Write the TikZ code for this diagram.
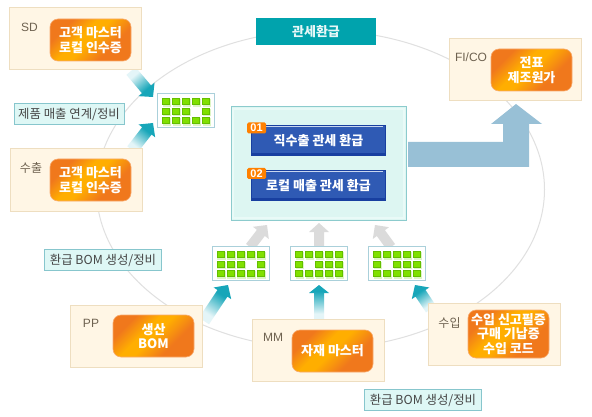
\documentclass[tikz,border=0pt]{standalone}
\usepackage{fontspec}
\setmainfont{Noto Sans CJK KR}
\newfontfamily\latinf{Liberation Sans}
\usetikzlibrary{calc}
\definecolor{oDark}{HTML}{F0781C}
\definecolor{oAmb}{HTML}{FFAE00}
\definecolor{oEdge}{HTML}{F8AA6E}
\definecolor{tealA}{HTML}{17A6B9}
\definecolor{tealL}{HTML}{E4F5F8}
\definecolor{grayA}{HTML}{DBDBDB}
\definecolor{bigB}{HTML}{98C0D6}
\definecolor{ringC}{HTML}{E0E0E0}
\definecolor{modF}{HTML}{FFF6E5}
\definecolor{modD}{HTML}{EEDEC0}
\definecolor{modT}{HTML}{6E6250}
\definecolor{noteD}{HTML}{87C6CD}
\definecolor{noteF}{HTML}{DEF7F5}
\definecolor{noteT}{HTML}{464646}
\definecolor{gridD}{HTML}{AAD0DA}
\definecolor{blueF}{HTML}{2F5AB4}
\definecolor{blueD}{HTML}{183FA0}
\definecolor{blueH}{HTML}{C8D6F0}
\definecolor{badgeF}{HTML}{FF8000}
\definecolor{cellG}{HTML}{DDF5C4}
\definecolor{cellF}{HTML}{80E000}
\definecolor{cellD}{HTML}{64BE00}
\definecolor{titleF}{HTML}{00A3AD}
\definecolor{titleT}{HTML}{E6F7F7}
\definecolor{cenD}{HTML}{8CCBCD}
\definecolor{cenF}{HTML}{DDF6F2}
\definecolor{cenE}{HTML}{E9FAF7}
\pgfdeclarehorizontalshading{orangeband}{100bp}{color(0bp)=(oDark);color(34bp)=(oDark);color(50bp)=(oAmb);color(58bp)=(oAmb);color(72bp)=(oDark);color(100bp)=(oDark)}
\pgfdeclarehorizontalshading{tealfade}{100bp}{color(0bp)=(tealL);color(34bp)=(tealL);color(66bp)=(tealA);color(100bp)=(tealA)}
\tikzset{
  modulebox/.style={rectangle,line width=1pt,fill=modF,draw=modD,minimum width=132,minimum height=62,inner sep=0pt},
  orangebtn/.style={rectangle,rounded corners=8pt,shading=orangeband,shading angle=135,draw=oEdge,line width=.6pt,text=white,font=\fontsize{13}{14.5}\selectfont\bfseries,align=center,minimum width=81,minimum height=42,inner sep=0pt},
  modlabel/.style={text=modT,font=\fontsize{12}{14}\latinf,inner sep=0pt},
  modlabelkr/.style={text=modT,font=\fontsize{12}{14}\selectfont,inner sep=0pt},
  notelabel/.style={draw=noteD,fill=noteF,line width=1pt,text=noteT,font=\fontsize{12.4}{14}\selectfont,inner sep=0pt,minimum height=21},
  gridnode/.style={draw=gridD,fill=white,line width=1pt,minimum width=57,minimum height=34,inner sep=0pt},
  bluebtn/.style={fill=blueF,draw=blueD,line width=1pt,text=white,font=\fontsize{13}{14}\selectfont\bfseries,minimum width=134,minimum height=30,inner sep=0pt},
  badge/.style={fill=badgeF,rounded corners=1.5pt,text=white,font=\fontsize{11}{11}\latinf\bfseries,minimum width=19,minimum height=11,inner sep=0pt},
  tealar/.style={shading=tealfade,shading angle=#1},
  grayar/.style={fill=grayA},
}
% from, to, shaft half width, head half width, head length, fill options
\newcommand{\fatarrow}[6]{%
  \path[#6] ($(#1)!#3pt!90:(#2)$) -- ($(#2)!#5pt!(#1)!#3pt!90:(#2)$) -- ($(#2)!#5pt!(#1)!#4pt!90:(#2)$) -- (#2)
    -- ($(#2)!#5pt!(#1)!#4pt!-90:(#2)$) -- ($(#2)!#5pt!(#1)!#3pt!-90:(#2)$) -- ($(#1)!#3pt!-90:(#2)$) -- cycle;}
\newcommand{\cell}[2]{%
  \fill[cellG] ({#1},{#2+1}) rectangle ({#1+8.5},{#2+8.8});
  \fill[cellF,draw=cellD,line width=.7pt] ({#1+.3},{#2+.3}) rectangle ({#1+6.9},{#2+6.5});}
\newcommand{\gridbox}[4]{%
  \node[gridnode] (#1) at (#2,#3) {};
  \foreach \r in {0,1,2}{\foreach \c in {0,1,2,3,4}{%
    \pgfmathtruncatemacro{\skipit}{(\r==1 && \c==#4) ? 1 : 0}%
    \ifnum\skipit=0 \cell{#2-23.5+10*\c}{#3-12.5+9.6*\r}\fi}}}
\newcommand{\btndetail}[1]{%
  \fill[blueD] ($(#1.south west)+(0,-3)$) rectangle (#1.south east);
  \draw[blueH,line width=.8pt] ($(#1.north west)+(3,1.6)$) -- ($(#1.north east)+(-3,1.6)$);}
\begin{document}
\begin{tikzpicture}[x=1pt,y=-1pt]
\useasboundingbox[fill=white] (0,0) rectangle (592,417);
\draw[ringC,line width=1pt] (320.5,189.5) ellipse [x radius=224,y radius=159];
% arrow end points
\coordinate (aSDs) at (131,71); \coordinate (aSDe) at (153,97);
\coordinate (aEXs) at (132,150); \coordinate (aEXe) at (153,123);
\coordinate (aPPs) at (204,321); \coordinate (aPPe) at (228,285);
\coordinate (aMMs) at (319,320); \coordinate (aMMe) at (319,285);
\coordinate (aIMs) at (431,309); \coordinate (aIMe) at (415,285);
\coordinate (gPPs) at (250,247); \coordinate (gPPe) at (267,225);
\coordinate (gMMs) at (319,247); \coordinate (gMMe) at (319,223);
\coordinate (gIMs) at (391,247); \coordinate (gIMe) at (375,225);
\fatarrow{aSDs}{aSDe}{6}{10.5}{10}{tealar=310}
\fatarrow{aEXs}{aEXe}{6}{10.5}{10}{tealar=52}
\fatarrow{aPPs}{aPPe}{6}{10.5}{10}{tealar=56}
\fatarrow{aMMs}{aMMe}{5}{10}{8}{tealar=90}
\fatarrow{aIMs}{aIMe}{6}{10.5}{10}{tealar=124}
\fatarrow{gPPs}{gPPe}{5}{10}{10}{grayar}
\fatarrow{gMMs}{gMMe}{5}{10}{9}{grayar}
\fatarrow{gIMs}{gIMe}{5}{10}{10}{grayar}
% modules
\node[modulebox] (sd) at (75.5,39) {};
\node[modulebox] (ex) at (76,180) {};
\node[modulebox] (fi) at (515,70) {};
\node[modulebox] (pp) at (136.5,336) {};
\node[modulebox] (mm) at (318.5,350.5) {};
\node[modulebox] (im) at (494.5,334) {};
\node[orangebtn] (sdb) at (90.5,40) {고객 마스터\\로컬 인수증};
\node[orangebtn] (exb) at (90.5,180) {고객 마스터\\로컬 인수증};
\node[orangebtn] (fib) at (531.5,70) {전표\\제조원가};
\node[orangebtn] (ppb) at (153.5,336) {생산\\BOM};
\node[orangebtn] (mmb) at (332.5,351) {자재 마스터};
\node[orangebtn,minimum height=48] (imb) at (508.5,334) {수입 신고필증\\구매 기납증\\수입 코드};
\node[modlabel] (sdl) at (29.5,27) {SD};
\node[modlabelkr] (exl) at (31,168) {수출};
\node[modlabel] (fil) at (471,57) {FI/CO};
\node[modlabel] (ppl) at (91,323) {PP};
\node[modlabel] (mml) at (273,337) {MM};
\node[modlabelkr] (iml) at (449.5,323) {수입};
% title
\node[fill=titleF,text=titleT,minimum width=120,minimum height=27,inner sep=0pt,font=\fontsize{13}{14}\selectfont\bfseries] (title) at (316,31.5) {관세환급};
% notes
\node[notelabel,minimum width=110] (n1) at (69,114.5) {제품 매출 연계/정비};
\node[notelabel,minimum width=117] (n2) at (103,260) {환급 BOM 생성/정비};
\node[notelabel,minimum width=117] (n3) at (423,400) {환급 BOM 생성/정비};
% grids
\gridbox{g1}{186}{110.5}{3}
\gridbox{g2}{240.5}{263.5}{3}
\gridbox{g3}{319}{263.5}{1}
\gridbox{g4}{397}{263.5}{1}
% centre
\node[draw=cenD,fill=cenF,line width=1pt,minimum width=175,minimum height=113,inner sep=0pt] (centre) at (318.5,163.5) {};
\draw[cenE,line width=2pt] ($(centre.north west)+(2.5,2.5)$) rectangle ($(centre.south east)+(-2.5,-2.5)$);
\node[bluebtn] (b1) at (318.5,140.5) {};
\node[bluebtn] (b2) at (318.5,185.5) {};
\btndetail{b1}
\btndetail{b2}
\node[bluebtn,fill=none,draw=none] (b1t) at (b1) {직수출 관세 환급};
\node[bluebtn,fill=none,draw=none] (b2t) at (b2) {로컬 매출 관세 환급};
\node[badge] (t1) at (256.5,128) {01};
\node[badge] (t2) at (256.5,173.5) {02};
% big arrow
\coordinate (bigE) at (516,104);
\fill[bigB] (408,142) -- (503,142) -- (503,124) -- (491,124) -- (bigE) -- (542,124) -- (529,124) -- (529,167) -- (408,167) -- cycle;
\end{tikzpicture}
\end{document}
